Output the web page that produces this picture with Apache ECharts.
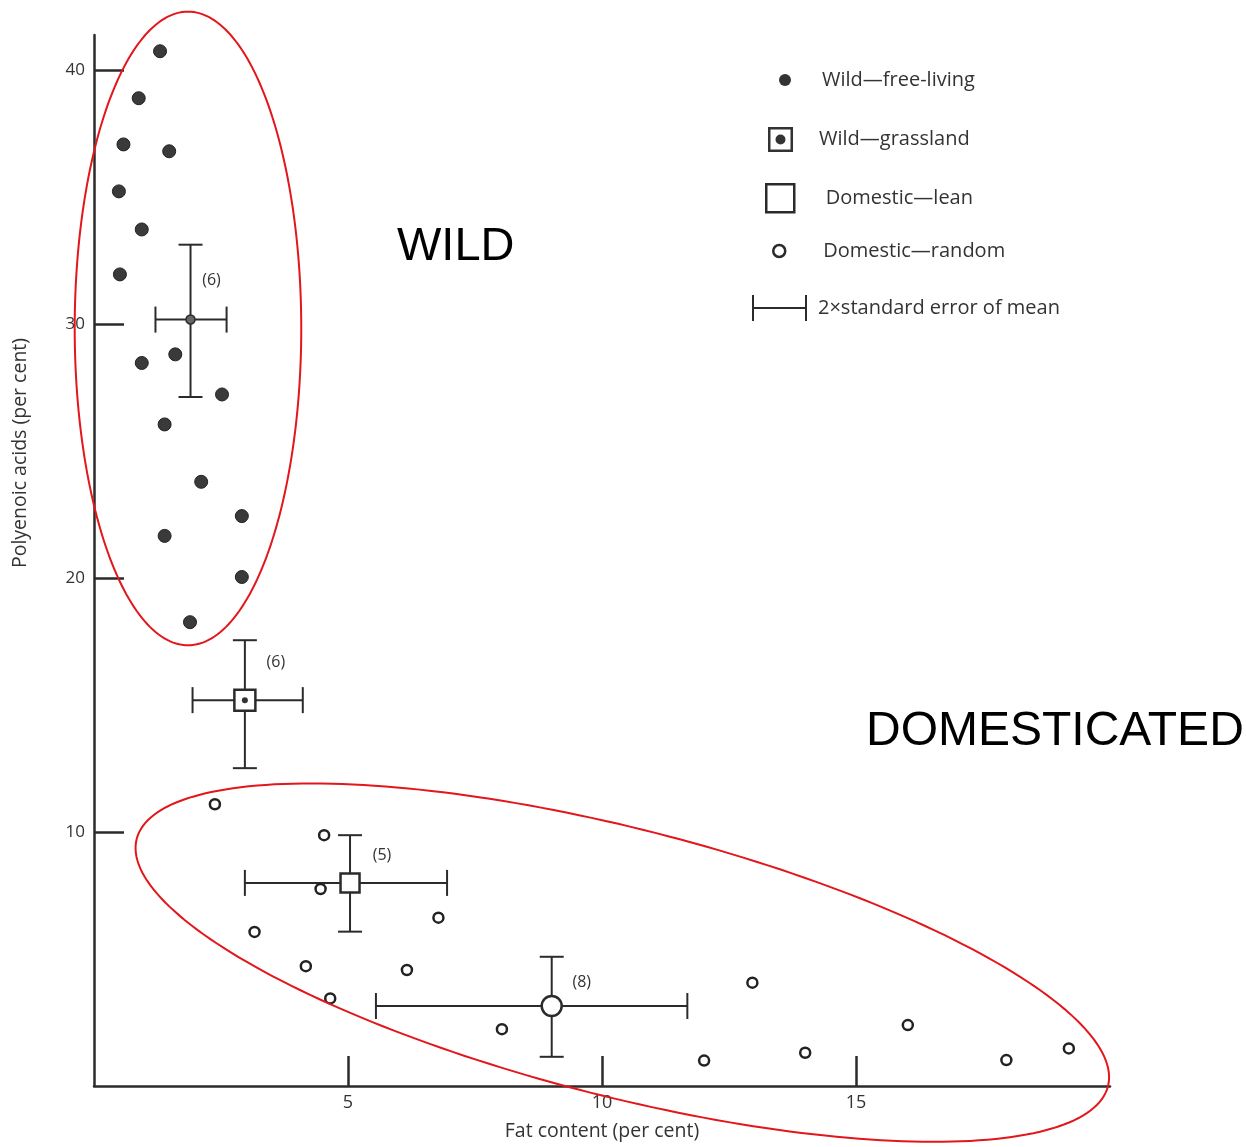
<!DOCTYPE html>
<html>
<head>
<meta charset="utf-8">
<title>Polyenoic acids vs fat content</title>
<script src="https://cdn.jsdelivr.net/npm/echarts@6/dist/echarts.min.js"></script>
<style>
  html, body { margin: 0; padding: 0; background: #fff; }
  #chart { width: 1246px; height: 1147px; }
</style>
</head>
<body>
<div id="chart"></div>
<script>
// wild, free-living animals (fat %, polyenoic acids %)
const wildX = [1.30, 0.88, 0.58, 1.48, 0.49, 0.94, 0.51, 1.60, 0.94, 2.52, 1.39, 2.11, 2.91, 1.39, 2.91, 1.89];
const wildY = [40.76, 38.91, 37.09, 36.82, 35.24, 33.74, 31.97, 28.82, 28.48, 27.24, 26.06, 23.80, 22.45, 21.67, 20.05, 18.27];
// domestic, random
const randX = [2.38, 4.53, 4.46, 3.16, 6.78, 4.17, 6.16, 4.65, 8.03, 12.96, 12.01, 14.00, 16.02, 17.96, 19.19];
const randY = [11.10, 9.88, 7.76, 6.07, 6.63, 4.72, 4.57, 3.45, 2.24, 4.07, 1.00, 1.31, 2.40, 1.02, 1.48];
// group means: wild free-living, wild grassland, domestic lean, domestic random
const meanX = [1.90, 2.97, 5.04, 9.01];
const meanY = [30.19, 15.20, 8.00, 3.15];
const errXLo = [1.21, 1.94, 2.97, 5.55];
const errXHi = [2.61, 4.11, 6.95, 11.68];
const errYLo = [27.14, 12.52, 6.08, 1.15];
const errYHi = [33.14, 17.56, 9.88, 5.09];
const meanN = [6, 6, 5, 8];

const xTicks = [5, 10, 15];
const yTicks = [10, 20, 30, 40];

// red rings drawn over the groups: centre + two conjugate half axes, in data units
const rings = [
  { c: [1.85, 29.84], u: [2.23, 0], v: [0, 12.48] },
  { c: [10.40, 4.86], u: [9.56, -4.87], v: [-0.65, -5.11] }
];
// where the "(n)" tags sit, px from the mean
const tagOffset = [[21, -39], [31, -38], [32, -27], [30, -24]];

const ink = '#2b2b2b';
const txt = '#333';
const smallFont = '"Open Sans", "DejaVu Sans", sans-serif';

const pairs = (xs, ys) => xs.map((x, i) => [x, ys[i]]);
const meanAt = (i) => [[meanX[i], meanY[i]]];

const chart = echarts.init(document.getElementById('chart'));

// legend boxes are placed by the icon's own bounds, so "left" is the icon's left edge
const legendBase = {
  orient: 'vertical',
  padding: 0,
  selectedMode: false,
  textStyle: { fontFamily: smallFont, fontSize: 20, color: txt }
};

const option = {
  backgroundColor: '#fff',
  animation: false,
  grid: { left: 94, right: 136, top: 35, bottom: 61, containLabel: false, outerBoundsMode: 'none' },
  xAxis: {
    type: 'value', min: 0, max: 20,
    name: 'Fat content (per cent)', nameLocation: 'middle', nameGap: 35,
    nameTextStyle: { fontFamily: smallFont, fontSize: 19.5, color: txt },
    axisLine: { lineStyle: { color: ink, width: 2.5 } },
    axisTick: { inside: true, length: 30, customValues: xTicks, lineStyle: { color: ink, width: 2.5 } },
    axisLabel: { customValues: xTicks, margin: 8, fontFamily: smallFont, fontSize: 18, color: txt },
    splitLine: { show: false }
  },
  yAxis: {
    type: 'value', min: 0, max: 41.4,
    axisLine: { lineStyle: { color: ink, width: 2.5 } },
    axisTick: { inside: true, length: 30, customValues: yTicks, lineStyle: { color: ink, width: 2.5 } },
    axisLabel: { customValues: yTicks, margin: 9, fontFamily: smallFont, fontSize: 17, color: txt },
    splitLine: { show: false }
  },
  legend: [
    Object.assign({}, legendBase, {
      left: 779, top: 70, itemWidth: 64, itemHeight: 12,
      data: [{ name: 'Wild—free-living', icon: 'circle', itemStyle: { color: '#333', borderWidth: 0 } }]
    }),
    Object.assign({}, legendBase, {
      left: 768, top: 127, itemWidth: 67, itemHeight: 25,
      data: [{
        name: 'Wild—grassland',
        icon: 'path://M0,0L25,0L25,25L0,25Z M2.5,2.5L2.5,22.5L22.5,22.5L22.5,2.5Z M7.5,12.5A5,5 0 1 0 17.5,12.5A5,5 0 1 0 7.5,12.5Z',
        itemStyle: { color: '#333', borderWidth: 0 }
      }]
    }),
    Object.assign({}, legendBase, {
      left: 765, top: 183, itemWidth: 81, itemHeight: 28,
      data: [{
        name: 'Domestic—lean',
        icon: 'path://M0,0L28,0L28,28L0,28Z',
        itemStyle: { color: '#fff', borderColor: ink, borderWidth: 2.5 }
      }]
    }),
    Object.assign({}, legendBase, {
      left: 772, top: 241, itemWidth: 78, itemHeight: 12,
      data: [{ name: 'Domestic—random', icon: 'circle', itemStyle: { color: '#fff', borderColor: ink, borderWidth: 2.5 } }]
    }),
    Object.assign({}, legendBase, {
      left: 752, top: 295, itemWidth: 67, itemHeight: 26,
      data: [{
        name: '2×standard error of mean',
        icon: 'path://M0,0L2,0L2,12L53,12L53,0L55,0L55,26L53,26L53,14L2,14L2,26L0,26Z',
        itemStyle: { color: ink, borderWidth: 0 }
      }]
    })
  ],
  graphic: [
    {
      type: 'text', x: 20, y: 453, rotation: Math.PI / 2,
      style: {
        text: 'Polyenoic acids (per cent)', font: '19.5px ' + smallFont, fill: txt,
        align: 'center', verticalAlign: 'middle', textAlign: 'center', textVerticalAlign: 'middle'
      }
    },
    {
      type: 'text', x: 397, y: 247,
      style: {
        text: 'WILD', font: '47px "Liberation Sans", Arial, sans-serif', fill: '#000',
        align: 'left', verticalAlign: 'middle', textAlign: 'left', textVerticalAlign: 'middle'
      }
    },
    {
      type: 'text', x: 866, y: 732,
      style: {
        text: 'DOMESTICATED', font: '48px "Liberation Sans", Arial, sans-serif', fill: '#000',
        align: 'left', verticalAlign: 'middle', textAlign: 'left', textVerticalAlign: 'middle'
      }
    }
  ],
  series: [
    {
      name: '2×standard error of mean',
      type: 'custom', z: 2, silent: true,
      data: meanX.map((x, i) => [x, meanY[i], errXLo[i], errXHi[i], errYLo[i], errYHi[i], meanN[i]]),
      renderItem: function (params, api) {
        const y = api.value(1), x = api.value(0);
        const c = api.coord([x, y]);
        const l = api.coord([api.value(2), y]);
        const r = api.coord([api.value(3), y]);
        const b = api.coord([x, api.value(4)]);
        const t = api.coord([x, api.value(5)]);
        const st = { stroke: ink, lineWidth: 2 };
        const seg = (x1, y1, x2, y2) => ({ type: 'line', shape: { x1: x1, y1: y1, x2: x2, y2: y2 }, style: st });
        const off = tagOffset[params.dataIndex];
        return {
          type: 'group',
          children: [
            seg(l[0], l[1], r[0], r[1]),
            seg(b[0], b[1], t[0], t[1]),
            seg(l[0], l[1] - 13, l[0], l[1] + 13),
            seg(r[0], r[1] - 13, r[0], r[1] + 13),
            seg(t[0] - 12, t[1], t[0] + 12, t[1]),
            seg(b[0] - 12, b[1], b[0] + 12, b[1]),
            {
              type: 'text', x: c[0] + off[0], y: c[1] + off[1],
              style: {
                text: '(' + api.value(6) + ')', font: '16px ' + smallFont, fill: txt,
                align: 'center', verticalAlign: 'middle', textAlign: 'center', textVerticalAlign: 'middle'
              }
            }
          ]
        };
      }
    },
    {
      name: 'Wild—free-living', type: 'scatter', z: 3,
      data: pairs(wildX, wildY), symbol: 'circle', symbolSize: 13,
      itemStyle: { color: '#3a3a3a', borderColor: '#222', borderWidth: 1, opacity: 1 }
    },
    {
      name: 'Wild—free-living', type: 'scatter', z: 4,
      data: meanAt(0), symbol: 'circle', symbolSize: 9,
      itemStyle: { color: '#666', borderColor: ink, borderWidth: 1.5, opacity: 1 }
    },
    {
      name: 'Wild—grassland', type: 'scatter', z: 4,
      data: meanAt(1), symbol: 'rect', symbolSize: 21,
      itemStyle: { color: '#fff', borderColor: ink, borderWidth: 2.5, opacity: 1 }
    },
    {
      name: 'Wild—grassland', type: 'scatter', z: 5,
      data: meanAt(1), symbol: 'circle', symbolSize: 6,
      itemStyle: { color: '#333', opacity: 1 }
    },
    {
      name: 'Domestic—lean', type: 'scatter', z: 4,
      data: meanAt(2), symbol: 'rect', symbolSize: 19,
      itemStyle: { color: '#fff', borderColor: ink, borderWidth: 2.5, opacity: 1 }
    },
    {
      name: 'Domestic—random', type: 'scatter', z: 3,
      data: pairs(randX, randY), symbol: 'circle', symbolSize: 10,
      itemStyle: { color: '#fff', borderColor: '#222', borderWidth: 2.5, opacity: 1 }
    },
    {
      name: 'Domestic—random', type: 'scatter', z: 4,
      data: meanAt(3), symbol: 'circle', symbolSize: 20,
      itemStyle: { color: '#fff', borderColor: ink, borderWidth: 2.5, opacity: 1 }
    },
    {
      name: 'rings', type: 'custom', z: 6, silent: true,
      data: rings.map(r => r.c),
      renderItem: function (params, api) {
        const r = rings[params.dataIndex];
        const pts = [];
        for (let k = 0; k < 240; k++) {
          const a = k / 240 * Math.PI * 2;
          const cs = Math.cos(a), sn = Math.sin(a);
          pts.push(api.coord([r.c[0] + cs * r.u[0] + sn * r.v[0], r.c[1] + cs * r.u[1] + sn * r.v[1]]));
        }
        return { type: 'polygon', shape: { points: pts }, style: { fill: 'none', stroke: '#e3161b', lineWidth: 2 } };
      }
    }
  ]
};

chart.setOption(option);
</script>
</body>
</html>
